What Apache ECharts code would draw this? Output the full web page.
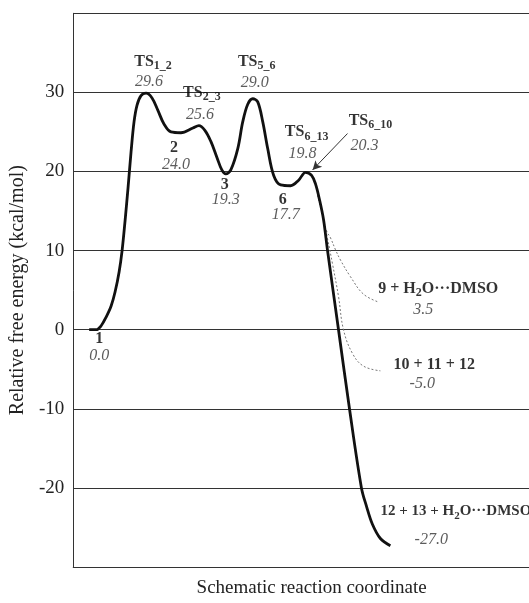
<!DOCTYPE html>
<html><head><meta charset="utf-8">
<script src="https://cdn.jsdelivr.net/npm/echarts@6/dist/echarts.min.js"></script>
<style>html,body{margin:0;padding:0;background:#fff}#c{width:529px;height:603px}</style>
</head><body><div id="c"></div>
<script>
// Main free-energy profile (schematic reaction coordinate, kcal/mol)
const mainCoord  = [16,23,28,33,38,42,46,49,52,55,58,61,64,68,73,79,85,91,98,108,120,126,132,138,144,149,153,158,165,170,175,180,185,190,195,201,208,218,226,233,239,243,247,251,255,266,277,289,294,300,308,318];
const mainEnergy = [0,0,0.5,1.6,3.0,4.8,7.3,10.0,13.8,18.0,22.5,26.3,28.4,29.6,29.9,29.3,27.7,26.0,25.0,24.9,25.5,25.8,25.2,23.8,21.8,20.2,19.7,20.2,22.9,26.3,28.5,29.2,28.8,26.3,22.9,19.5,18.3,18.2,18.9,19.9,19.5,18.4,16.4,13.9,10.0,0,-10.0,-20.0,-22.3,-24.6,-26.4,-27.3];
// Dotted branch to 9 + H2O···DMSO
const branch9Coord  = [245,250,254,258,263,268,278,291,306];
const branch9Energy = [17.0,14.5,12.5,11.6,10.1,8.8,6.7,4.5,3.5];
// Dotted branch to 10 + 11 + 12
const branch10Coord  = [245,250,255,260,266,271,280,291,308];
const branch10Energy = [17.0,14.5,11.5,8.3,4.2,0,-3.0,-4.6,-5.2];
// Species names and energies (labels)
const speciesNames  = ['1','TS_{1_2}','2','TS_{2_3}','3','TS_{5_6}','6','TS_{6_13}','TS_{6_10}','9 + H_{2}O···DMSO','10 + 11 + 12','12 + 13 + H_{2}O···DMSO'];
const speciesValues = ['0.0','29.6','24.0','25.6','19.3','29.0','17.7','19.8','20.3','3.5','-5.0','-27.0'];
// annotation anchors (coord, energy) for names and values
const nameAnchorX  = [26,80,101,129,152,184,210,234,298,366,362,308];
const nameAnchorY  = [-1.2,33.9,23.0,30.0,18.3,33.9,16.4,25.0,26.4,5.2,-4.5,-22.96];
const valueAnchorX = [26,76,103,127,153,182,213,230,292,351,350,359];
const valueAnchorY = [-3.3,31.3,20.8,27.2,16.4,31.2,14.5,22.3,23.3,2.5,-6.8,-26.5];
// Arrow for TS6_10
const arrowFrom = [275, 24.8];
const arrowTo   = [240, 20.2];
const yTicks = [-20,-10,0,10,20,30];

const FONT = 'Liberation Serif';
function toRich(s, small){
  const b = small ? 'bs' : 'b', sub = small ? 'ss' : 's';
  return s.split(/(_\{[^}]*\})/).filter(t=>t.length).map(t=>{
    const m = t.match(/^_\{([^}]*)\}$/);
    return m ? '{'+sub+'|'+m[1]+'}' : '{'+b+'|'+t+'}';
  }).join('');
}
const zip = (a,b)=>a.map((v,i)=>[v,b[i]]);
const lastIdx = speciesNames.length-1;

const nameData = speciesNames.map((n,i)=>{
  const d = {value:[nameAnchorX[i], nameAnchorY[i]], name:n};
  if (i === lastIdx) d.label = {align:'left'};
  return d;
});
const valueData = speciesValues.map((v,i)=>({value:[valueAnchorX[i], valueAnchorY[i]], name:v}));

const chart = echarts.init(document.getElementById('c'));
chart.setOption({
  animation:false,
  backgroundColor:'#fff',
  grid:{left:72, top:13.3, right:0, height:560, show:false},
  xAxis:{type:'value', min:0, max:457,
    axisLine:{show:true, onZero:false, lineStyle:{color:'#333', width:1}},
    axisTick:{show:false}, axisLabel:{show:false}, splitLine:{show:false},
    name:'Schematic reaction coordinate', nameLocation:'middle', nameGap:12,
    nameTextStyle:{fontFamily:FONT, fontSize:19, color:'#222', padding:[0,0,0,21]}},
  yAxis:{type:'value', min:-30, max:40, interval:10,
    axisLine:{show:true, lineStyle:{color:'#333', width:1}},
    axisTick:{show:false},
    axisLabel:{fontFamily:FONT, fontSize:19, color:'#222', margin:9,
      formatter:v=> yTicks.indexOf(v)>=0 ? String(v) : ''},
    splitLine:{show:true, lineStyle:{color:'#333', width:1}},
    name:'Relative free energy (kcal/mol)', nameLocation:'middle', nameGap:42,
    nameTextStyle:{fontFamily:FONT, fontSize:20, color:'#222'}},
  series:[
    {type:'line', data:zip(branch9Coord, branch9Energy), smooth:0.4, showSymbol:false,
     lineStyle:{color:'#777', width:1, type:[2,2]}, z:2},
    {type:'line', data:zip(branch10Coord, branch10Energy), smooth:0.4, showSymbol:false,
     lineStyle:{color:'#777', width:1, type:[2,2]}, z:2},
    {type:'line', data:zip(mainCoord, mainEnergy), smooth:0.35, showSymbol:false,
     lineStyle:{color:'#111', width:2.8}, z:3,
     markLine:{silent:true, symbol:['none','arrow'], symbolSize:[7,9], label:{show:false},
       lineStyle:{color:'#333', width:1, type:'solid'},
       data:[[{coord:arrowFrom},{coord:arrowTo}]]}},
    {type:'scatter', data:nameData, symbolSize:0, z:5,
     label:{show:true, position:'inside', formatter:p=>toRich(p.name, p.dataIndex===lastIdx),
       fontFamily:FONT, fontSize:16, fontWeight:'bold', color:'#000', lineHeight:21,
       rich:{b:{fontFamily:FONT, fontSize:16, fontWeight:'bold', color:'#000', lineHeight:21},
             s:{fontFamily:FONT, fontSize:12, fontWeight:'bold', color:'#000', verticalAlign:'bottom', lineHeight:14},
             bs:{fontFamily:FONT, fontSize:15, fontWeight:'bold', color:'#000', lineHeight:20},
             ss:{fontFamily:FONT, fontSize:11, fontWeight:'bold', color:'#000', verticalAlign:'bottom', lineHeight:13}}}},
    {type:'scatter', data:valueData, symbolSize:0, z:5,
     label:{show:true, position:'inside', formatter:p=>p.name,
       fontFamily:FONT, fontSize:16, fontStyle:'italic', color:'#333'}}
  ]
});
</script></body></html>
